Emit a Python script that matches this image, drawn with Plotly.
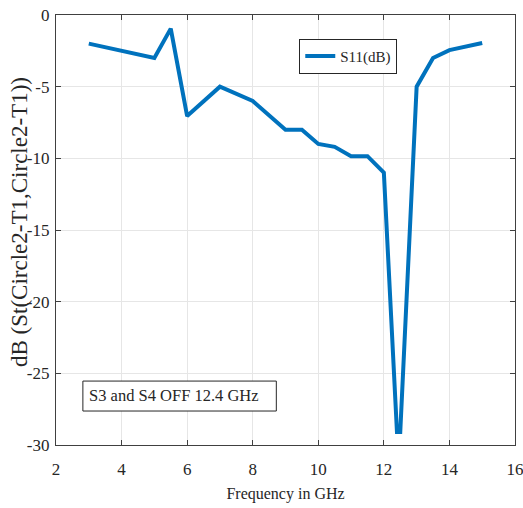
import plotly.graph_objects as go

freq = [3, 5, 5.5, 6, 7, 8, 9, 9.5, 10, 10.5, 11, 11.5, 12, 12.4, 12.5, 13, 13.5, 14, 15]
s11 = [-2, -3, -0.95, -7.05, -5, -6, -8, -8, -9, -9.2, -9.85, -9.85, -11, -29.1, -29.1, -5, -3, -2.45, -1.95]

xticks = [2, 4, 6, 8, 10, 12, 14, 16]
yticks = [0, -5, -10, -15, -20, -25, -30]

FONT = "Liberation Serif, Times New Roman, serif"

fig = go.Figure()
fig.add_trace(go.Scatter(
    x=freq, y=s11, mode="lines", name="S11(dB)",
    line=dict(color="#0072BD", width=4),
))

axis_common = dict(
    showline=True, linecolor="#404040", linewidth=1.3, mirror="ticks",
    ticks="inside", ticklen=5, tickcolor="#404040",
    showgrid=True, gridcolor="#E6E6E6", gridwidth=1,
    zeroline=False, automargin=False, ticklabeloverflow="allow",
    tickfont=dict(family=FONT, size=17, color="#262626"),
)

fig.update_layout(
    width=523, height=508,
    margin=dict(l=56, r=8, t=15, b=63, autoexpand=False),
    paper_bgcolor="white", plot_bgcolor="white",
    xaxis=dict(range=[2, 16], tickvals=xticks, ticktext=[str(v) for v in xticks],
               ticklabelstandoff=8,
               title=dict(text="Frequency in GHz", font=dict(family=FONT, size=16, color="#262626"), standoff=10),
               **axis_common),
    yaxis=dict(range=[-30, 0], tickvals=yticks, ticktext=[str(v) for v in yticks],
               ticklabelstandoff=2,
               **axis_common),
    legend=dict(x=0.53, y=0.945, xanchor="left", yanchor="top",
                bordercolor="#262626", borderwidth=1, bgcolor="white",
                font=dict(family=FONT, size=15, color="#262626"),
                itemwidth=30, tracegroupgap=0),
    showlegend=True,
)

# y-axis title placed as a rotated annotation
fig.add_annotation(xref="paper", yref="paper", x=-0.0806, y=0.5186,
                   xanchor="center", yanchor="middle", textangle=-90,
                   text="dB (St(Circle2-T1,Circle2-T1))", showarrow=False,
                   font=dict(family=FONT, size=23, color="#262626"))

fig.add_shape(type="rect", xref="x", yref="y", x0=2.82, x1=8.72, y0=-27.63, y1=-25.54,
              line=dict(color="#262626", width=1), fillcolor="white", layer="above")
fig.add_annotation(xref="x", yref="y", x=2.95, y=-26.58, xanchor="left", yanchor="middle",
                   text="S3 and S4 OFF 12.4 GHz", showarrow=False,
                   font=dict(family=FONT, size=16.5, color="#262626"))

fig.write_html(
    "out.html",
    config={"displayModeBar": False},
    post_script="document.body.style.margin='0';document.body.style.overflow='hidden';",
)
